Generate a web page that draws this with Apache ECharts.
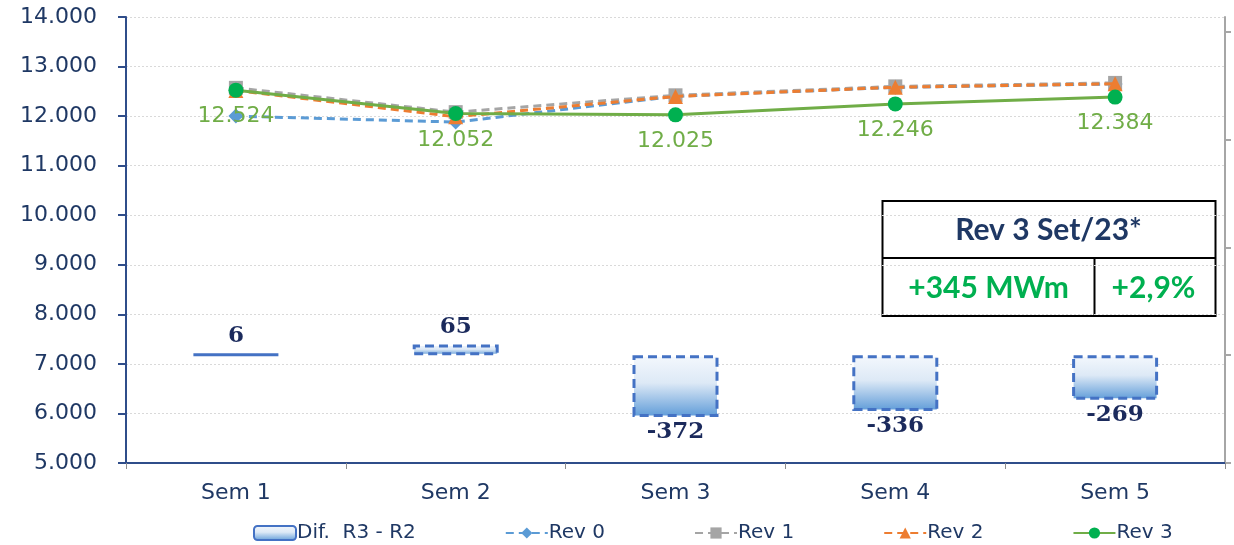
<!DOCTYPE html>
<html>
<head>
<meta charset="utf-8">
<script src="https://cdn.jsdelivr.net/npm/echarts@6/dist/echarts.min.js"></script>
<style>
html,body{margin:0;padding:0;background:#fff;}
#c{width:1234px;height:545px;}
</style>
</head>
<body>
<div id="c"></div>
<script>
const categories = ['Sem 1', 'Sem 2', 'Sem 3', 'Sem 4', 'Sem 5'];
const difR3R2 = [6, 65, -372, -336, -269];
const rev0 = [12000, 11880, 12400, 12580, 12650];
const rev1 = [12570, 12080, 12420, 12600, 12670];
const rev2 = [12518, 11987, 12397, 12582, 12653];
const rev3 = [12524, 12052, 12025, 12246, 12384];
const seriesNames = ['Dif.  R3 - R2', 'Rev 0', 'Rev 1', 'Rev 2', 'Rev 3'];
const boxTitle = 'Rev 3 Set/23*';
const boxMWm = '+345 MWm';
const boxPct = '+2,9%';

function fmt(v) {
  return Math.round(v).toString().replace(/\B(?=(\d{3})+(?!\d))/g, '.');
}

const navy = '#1F3864';
const chart = echarts.init(document.getElementById('c'), null, {renderer: 'canvas'});

const barData = difR3R2.map(v => ({
  value: v,
  label: v >= 0 ? {position: 'top', distance: 6} : {position: 'bottom', distance: 4}
}));

const option = {
  animation: false,
  backgroundColor: '#fff',
  grid: {left: 126, right: 9, top: 17, bottom: 82, containLabel: false},
  legend: {
    data: seriesNames,
    left: 248,
    top: 518,
    itemGap: 89,
    itemWidth: 42,
    itemHeight: 14,
    textStyle: {fontFamily: 'DejaVu Sans', fontSize: 20, color: navy, padding: [0, 0, 0, -4]}
  },
  xAxis: {
    type: 'category',
    data: categories,
    boundaryGap: true,
    axisLine: {onZero: false, lineStyle: {color: '#2F4D8A', width: 2}},
    axisTick: {show: true, length: 6, lineStyle: {color: '#8C8C8C'}},
    axisLabel: {fontFamily: 'DejaVu Sans', fontSize: 22, color: navy, margin: 19}
  },
  yAxis: [
    {
      type: 'value',
      min: 5000,
      max: 14000,
      interval: 1000,
      axisLine: {show: true, lineStyle: {color: '#2F4D8A', width: 2}},
      axisTick: {show: true, length: 8, lineStyle: {color: '#2F4D8A', width: 2}},
      axisLabel: {fontFamily: 'DejaVu Sans', fontSize: 22, color: navy, margin: 29, formatter: fmt},
      splitLine: {show: true, lineStyle: {color: '#D9D9D9', type: [2, 2], width: 1}}
    },
    {
      type: 'value',
      position: 'right',
      min: -650,
      max: 2040,
      interval: 650,
      axisLine: {show: true, onZero: false, lineStyle: {color: '#A6A6A6', width: 2}},
      axisTick: {show: true, length: 6, lineStyle: {color: '#A6A6A6', width: 2}, customValues: [-650, 0, 650, 1300, 1950]},
      axisLabel: {show: false},
      splitLine: {show: false}
    }
  ],
  series: [
    {
      name: seriesNames[0],
      type: 'bar',
      yAxisIndex: 1,
      data: barData,
      barWidth: 86,
      itemStyle: {
        color: new echarts.graphic.LinearGradient(0, 0, 0, 1, [
          {offset: 0, color: '#F4F8FD'},
          {offset: 0.45, color: '#DDE9F6'},
          {offset: 1, color: '#5E9BD8'}
        ]),
        borderColor: '#4472C4',
        borderWidth: 3,
        borderType: [9, 5]
      },
      label: {
        show: true,
        fontFamily: 'DejaVu Serif',
        fontWeight: 'bold',
        fontSize: 23,
        color: '#1B2A5C'
      },
      z: 2
    },
    {
      name: seriesNames[1],
      type: 'line',
      data: rev0,
      symbol: 'diamond',
      symbolSize: 15,
      lineStyle: {color: '#5B9BD5', width: 3, type: [8, 5]},
      itemStyle: {color: '#5B9BD5'},
      z: 3
    },
    {
      name: seriesNames[2],
      type: 'line',
      data: rev1,
      symbol: 'rect',
      symbolSize: 14,
      lineStyle: {color: '#A5A5A5', width: 3, type: [8, 5]},
      itemStyle: {color: '#A5A5A5'},
      z: 4
    },
    {
      name: seriesNames[3],
      type: 'line',
      data: rev2,
      symbol: 'triangle',
      symbolSize: 15,
      lineStyle: {color: '#ED7D31', width: 3, type: [8, 5]},
      itemStyle: {color: '#ED7D31'},
      z: 5
    },
    {
      name: seriesNames[4],
      type: 'line',
      data: rev3,
      symbol: 'circle',
      symbolSize: 15,
      lineStyle: {color: '#70AD47', width: 3},
      itemStyle: {color: '#00B050'},
      label: {
        show: true,
        position: 'bottom',
        distance: 8,
        fontFamily: 'DejaVu Sans',
        fontSize: 22,
        color: '#70AD47',
        formatter: p => fmt(p.value)
      },
      z: 6
    }
  ],
  graphic: [
    {
      type: 'group',
      left: 880,
      top: 200,
      z: 100,
      children: [
        {type: 'rect', shape: {x: 0, y: 0, width: 333, height: 115}, style: {fill: '#fff', stroke: '#000', lineWidth: 2}},
        {type: 'line', shape: {x1: 0, y1: 57, x2: 333, y2: 57}, style: {stroke: '#000', lineWidth: 2}},
        {type: 'line', shape: {x1: 212, y1: 57, x2: 212, y2: 115}, style: {stroke: '#000', lineWidth: 2}},
        {type: 'text', x: 166, y: 29, style: {text: boxTitle, fill: navy, font: 'bold 30px Lato', align: 'center', verticalAlign: 'middle'}},
        {type: 'text', x: 106, y: 87, style: {text: boxMWm, fill: '#00B050', font: 'bold 30px Lato', align: 'center', verticalAlign: 'middle'}},
        {type: 'text', x: 271, y: 87, style: {text: boxPct, fill: '#00B050', font: 'bold 30px Lato', align: 'center', verticalAlign: 'middle'}}
      ]
    }
  ]
};
chart.setOption(option);
</script>
</body>
</html>
